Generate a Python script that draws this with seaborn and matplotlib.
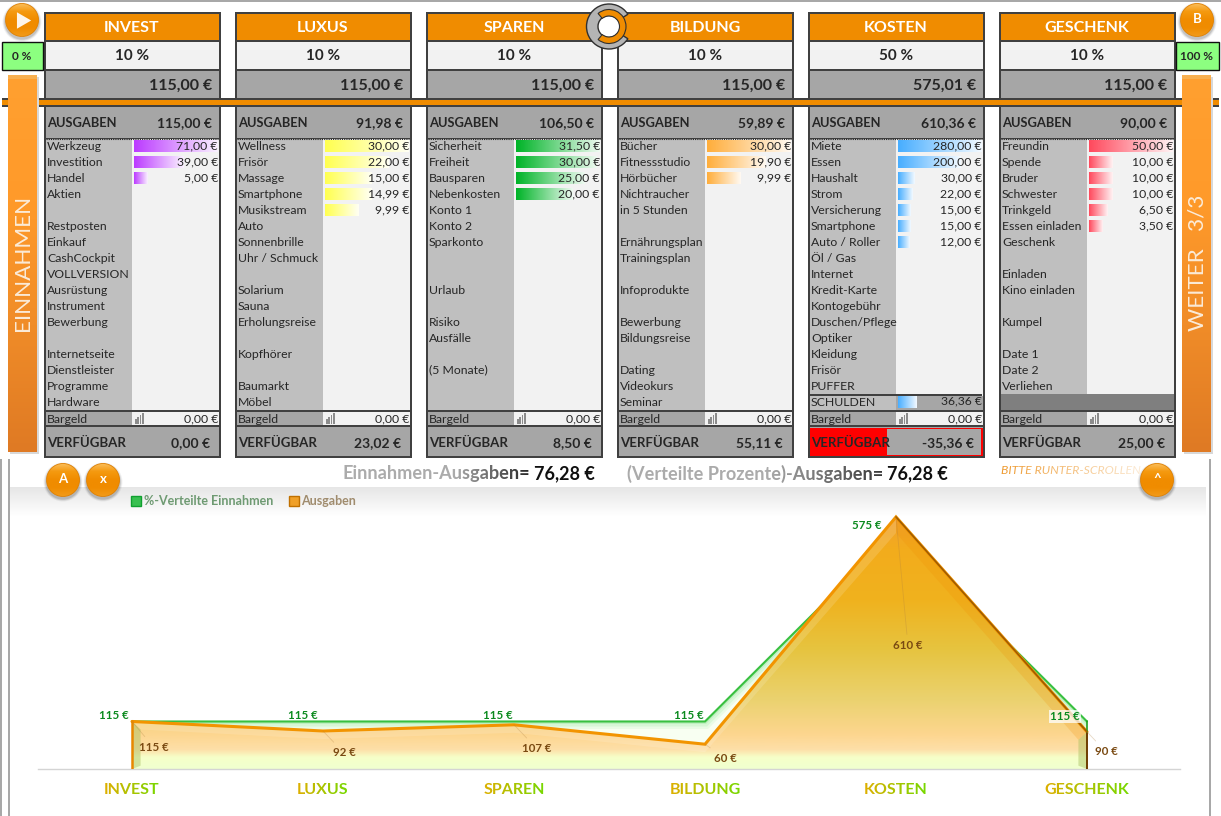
import numpy as np
import pandas as pd
import matplotlib
matplotlib.use("Agg")
import matplotlib.pyplot as plt
import seaborn as sns
from matplotlib.colors import LinearSegmentedColormap as LSC, to_rgb
from matplotlib.patches import Rectangle, Circle, Wedge, Polygon, Patch, RegularPolygon

W, H = 1221, 816

# chart data
categories = ["INVEST", "LUXUS", "SPAREN", "BILDUNG", "KOSTEN", "GESCHENK"]
verteilt = [115, 115, 115, 115, 575, 115]
ausgaben = [115, 92, 107, 60, 610, 90]

# panel data
percents = ["10 %", "10 %", "10 %", "10 %", "50 %", "10 %"]
budget_txt = ["115,00 €", "115,00 €", "115,00 €", "115,00 €", "575,01 €", "115,00 €"]
ausgaben_txt = ["115,00 €", "91,98 €", "106,50 €", "59,89 €", "610,36 €", "90,00 €"]
verfuegbar_txt = ["0,00 €", "23,02 €", "8,50 €", "55,11 €", "-35,36 €", "25,00 €"]

invest_items = ["Werkzeug", "Investition", "Handel", "Aktien", "", "Restposten", "Einkauf", "CashCockpit",
                "VOLLVERSION", "Ausrüstung", "Instrument", "Bewerbung", "", "Internetseite", "Dienstleister",
                "Programme", "Hardware"]
luxus_items = ["Wellness", "Frisör", "Massage", "Smartphone", "Musikstream", "Auto", "Sonnenbrille", "Uhr / Schmuck",
               "", "Solarium", "Sauna", "Erholungsreise", "", "Kopfhörer", "", "Baumarkt", "Möbel"]
sparen_items = ["Sicherheit", "Freiheit", "Bausparen", "Nebenkosten", "Konto 1", "Konto 2", "Sparkonto", "", "",
                "Urlaub", "", "Risiko", "Ausfälle", "", "(5 Monate)", "", ""]
bildung_items = ["Bücher", "Fitnessstudio", "Hörbücher", "Nichtraucher", "in 5 Stunden", "", "Ernährungsplan",
                 "Trainingsplan", "", "Infoprodukte", "", "Bewerbung", "Bildungsreise", "", "Dating", "Videokurs",
                 "Seminar"]
kosten_items = ["Miete", "Essen", "Haushalt", "Strom", "Versicherung", "Smartphone", "Auto / Roller", "Öl / Gas",
                "Internet", "Kredit-Karte", "Kontogebühr", "Duschen/Pflege", "Optiker", "Kleidung", "Frisör", "PUFFER",
                "SCHULDEN"]
geschenk_items = ["Freundin", "Spende", "Bruder", "Schwester", "Trinkgeld", "Essen einladen", "Geschenk", "",
                  "Einladen", "Kino einladen", "", "Kumpel", "", "Date 1", "Date 2", "Verliehen", ""]

invest_vals = [71.00, 39.00, 5.00]
luxus_vals = [30.00, 22.00, 15.00, 14.99, 9.99]
sparen_vals = [31.50, 30.00, 25.00, 20.00]
bildung_vals = [30.00, 19.90, 9.99]
kosten_vals = [280.00, 200.00, 30.00, 22.00, 15.00, 15.00, 12.00]
schulden_val = 36.36
geschenk_vals = [50.00, 10.00, 10.00, 10.00, 6.50, 3.50]

items = [invest_items, luxus_items, sparen_items, bildung_items, kosten_items, geschenk_items]
values = [invest_vals, luxus_vals, sparen_vals, bildung_vals, kosten_vals, geschenk_vals]
bar_colors = ["#BC3CFF", "#FFFF50", "#00B428", "#FFAE3C", "#48AEFF", "#FF4A5E"]
panel_x = [44, 235, 426, 617, 808, 999]

ORANGE = "#F08C00"
DARK = "#404040"
GREY = "#A6A6A6"
LGREY = "#BFBFBF"
PALE = "#F2F2F2"
TXT = "#262626"
LIST_FS = 8.8

sns.set_theme(style="white")
plt.rcParams["font.family"] = ["Lato", "DejaVu Sans"]


def money(v):
    return f"{v:.2f}".replace(".", ",") + " €"


def bar_len(v, vmax):
    # excel style data bar, never shorter than 10 %
    return 0.1 + 0.9 * v / vmax


def grad_text(c0, c1, start=0.0):
    # recolours a text from left to right when it is drawn
    c0, c1 = np.array(to_rgb(c0)), np.array(to_rgb(c1))

    def flt(img, dpi):
        t = np.linspace(0, 1, img.shape[1])
        t = np.clip((t - start) / (1 - start), 0, 1)[None, :, None]
        img = img.copy()
        img[..., :3] = c0 * (1 - t) + c1 * t
        return img, 0, 0
    return flt


def fade_text(color):
    rgb = np.array(to_rgb(color))

    def flt(img, dpi):
        t = np.linspace(1, 0.2, img.shape[1])[None, :]
        img = img.copy()
        img[..., :3] = rgb
        img[..., 3] = img[..., 3] * t
        return img, 0, 0
    return flt


fig = plt.figure(figsize=(W / 100, H / 100), dpi=100)
fig.patch.set_facecolor("white")


def full_axes(z):
    a = fig.add_axes([0, 0, 1, 1], zorder=z)
    a.set_xlim(0, W)
    a.set_ylim(H, 0)
    a.axis("off")
    a.patch.set_alpha(0)
    return a


bg = full_axes(0)
fg = full_axes(5)


def box(a, x0, y0, x1, y1, color, z=1, **kw):
    a.add_patch(Rectangle((x0, y0), x1 - x0, y1 - y0, facecolor=color, edgecolor="none", zorder=z, **kw))


def vgrad(a, x0, y0, x1, y1, colors, z=1, clip=None):
    cm = LSC.from_list("g", colors)
    im = a.imshow(np.linspace(0, 1, 128)[:, None], cmap=cm, extent=[x0, x1, y1, y0], aspect="auto", zorder=z,
                  origin="upper")
    if clip is not None:
        a.add_patch(clip)
        clip.set_visible(False)
        im.set_clip_path(clip)
    return im


# page frame
box(bg, 0, 0, W, 1.5, "#A8A8A8")
box(bg, 0, 459, 1.5, H, "#A8A8A8")
box(bg, 7.5, 459, 9.5, H, "#A8A8A8")
box(bg, 1208.5, 459, 1210.5, H, "#A8A8A8")
vgrad(bg, 10, 487, 1206, 516, ["#E6E6E6", "#FFFFFF"], z=1)

# panels
for i, x in enumerate(panel_x):
    box(bg, x - 0.5, 11.5, x + 176.5, 458, DARK)
    box(bg, x + 1.5, 13.5, x + 174.5, 40, ORANGE, z=2)
    box(bg, x + 1.5, 42, x + 174.5, 69, PALE, z=2)
    box(bg, x + 1.5, 71, x + 174.5, 98, GREY, z=2)
    box(bg, x + 1.5, 107, x + 174.5, 138, GREY, z=2)
    box(bg, x + 1.5, 139, x + 88, 410, LGREY, z=2)
    box(bg, x + 88, 139, x + 174.5, 410, PALE, z=2)
    box(bg, x + 1.5, 411.5, x + 88, 425, GREY, z=2)
    box(bg, x + 88, 411.5, x + 174.5, 425, PALE, z=2)
    box(bg, x + 1.5, 427, x + 174.5, 456, GREY, z=2)
    bg.plot([x + 2, x + 174], [138.5, 138.5], color="#202020", lw=0.8, ls=(0, (1, 1)), zorder=3)

    fg.text(x + 88, 27.5, categories[i], color="white", fontsize=11.5, fontweight="bold", ha="center", va="center")
    fg.text(x + 88, 56.5, percents[i], color=TXT, fontsize=11, fontweight="bold", ha="center", va="center")
    fg.text(x + 168, 85.5, budget_txt[i], color=TXT, fontsize=11.5, fontweight="bold", ha="right", va="center")
    fg.text(x + 3, 123, "AUSGABEN", color=TXT, fontsize=9.3, fontweight="bold", ha="left", va="center")
    fg.text(x + 168, 123, ausgaben_txt[i], color=TXT, fontsize=10, fontweight="bold", ha="right", va="center")
    fg.text(x + 3, 443, "VERFÜGBAR", color=TXT, fontsize=9.5, fontweight="bold", ha="left", va="center")
    fg.text(x + 166, 443, verfuegbar_txt[i], color=TXT, fontsize=10, fontweight="bold", ha="right", va="center")
    fg.text(x + 3, 419.5, "Bargeld", color=TXT, fontsize=LIST_FS, ha="left", va="center")
    fg.text(x + 174, 419, "0,00 €", color=TXT, fontsize=LIST_FS, ha="right", va="center")
    for k, hgt in enumerate([5, 7, 9, 11]):
        box(bg, x + 91 + k * 2.3, 424 - hgt, x + 92.8 + k * 2.3, 424, "#8C8C8C", z=3)

    for r, name in enumerate(items[i]):
        if name:
            yy = 403 if name == "SCHULDEN" else 146 + 16 * r
            fg.text(x + 3, yy, name, color=TXT, fontsize=LIST_FS, ha="left", va="center")
    for r, v in enumerate(values[i]):
        fg.text(x + 174, 146 + 16 * r, money(v), color=TXT, fontsize=LIST_FS, ha="right", va="center")

# special rows
kx = panel_x[4]
box(bg, kx + 2, 394, kx + 174, 410, DARK, z=3)
box(bg, kx + 1.5, 395.5, kx + 88, 410, LGREY, z=3)
box(bg, kx + 88, 395.5, kx + 174.5, 410, GREY, z=3)
fg.text(kx + 174, 401, money(schulden_val), color=TXT, fontsize=LIST_FS, ha="right", va="center")
box(bg, kx + 1.5, 427.5, kx + 174.5, 456, "#FF0000", z=3)
box(bg, kx + 3, 429, kx + 173, 454.5, GREY, z=3)
box(bg, kx + 3, 429, kx + 79, 454.5, "#FF0000", z=3)
gx = panel_x[5]
box(bg, gx + 1.5, 394, gx + 174.5, 410, "#7F7F7F", z=3)

# data bars
for i, x in enumerate(panel_x):
    vals = list(values[i])
    rows = list(range(len(vals)))
    if i == 4:
        vals.append(schulden_val)
        rows.append(16)
    vmax = max(vals)
    df_bar = pd.DataFrame({"row": rows, "length": [bar_len(v, vmax) for v in vals]})
    ax = fig.add_axes([(x + 90) / W, 1 - 410 / H, 84 / W, 272 / H], zorder=2)
    sns.barplot(data=df_bar, x="length", y="row", orient="h", native_scale=True, width=0.75, errorbar=None,
                color=bar_colors[i], ax=ax)
    cm = LSC.from_list("b", [bar_colors[i], "#FFFFFF"])
    for p in list(ax.patches):
        px, py, pw, ph = p.get_x(), p.get_y(), p.get_width(), p.get_height()
        ax.imshow(np.linspace(0, 0.93, 64)[None, :], cmap=cm, vmin=0, vmax=1, aspect="auto",
                  extent=[px, px + pw, py + ph, py], zorder=2)
        p.set_visible(False)
    ax.set_xlim(0, 1)
    ax.set_ylim(16.5, -0.5)
    ax.axis("off")
    ax.patch.set_alpha(0)

# horizontal band
box(fg, 2, 98, 1219, 107, DARK, z=1)
box(fg, 2, 100, 1219, 105, ORANGE, z=1)

# side bars
for x0, label in [(8, "EINNAHMEN"), (1182, "WEITER   3/3")]:
    box(fg, x0 + 2, 77, x0 + 31, 454, "#D8D8D8", z=1)
    vgrad(fg, x0, 75, x0 + 29, 452, ["#FFA030", "#FF9A2A", "#F08C28", "#DF7A24"], z=2)
    box(fg, x0, 75, x0 + 29, 79, "#F8B050", z=2)
    fg.text(x0 + 15.5, 263, label, color="#FBEBD8", fontsize=16.2, rotation=90, ha="center", va="center", zorder=3)

# percent boxes
for x0, x1, t in [(1, 43, "0 %"), (1175, 1219, "100 %")]:
    fg.add_patch(Rectangle((x0 + 0.5, 41.5), x1 - x0 - 1, 28.5, facecolor="#8CFF80", edgecolor="#101010", lw=1.0,
                           zorder=2))
    fg.text((x0 + x1) / 2, 57, t, color=TXT, fontsize=8.5, fontweight="bold", ha="center", va="center", zorder=3)


def button(cx, cy, label=None, r=16.5):
    for k, al in zip([5, 3.5, 2], [0.05, 0.08, 0.12]):
        fg.add_patch(Circle((cx, cy + 2), r + k * 0.6, facecolor="black", alpha=al, edgecolor="none", zorder=6))
    clip = Circle((cx, cy), r, transform=fg.transData)
    vgrad(fg, cx - r, cy - r, cx + r, cy + r, ["#FBC060", "#F59A10", "#F08C00", "#F08C00", "#F29A18"], z=7, clip=clip)
    fg.add_patch(Circle((cx, cy), r, facecolor="none", edgecolor="#E08000", lw=0.6, zorder=7))
    if label:
        fg.text(cx, cy - 1, label, color="white", fontsize=9.5, fontweight="bold", ha="center", va="center", zorder=8)


button(22, 20)
fg.add_patch(RegularPolygon((21.7, 20.5), 3, radius=9.5, orientation=-np.pi / 2, facecolor="#FDF5EA",
                            edgecolor="none", zorder=8))
button(1197, 20, "B")
button(63, 480, "A")
button(103, 480, "x")
button(1157, 480, "^")

# logo
lx, ly = 609, 26.5
fg.add_patch(Circle((lx, ly), 11, facecolor="white", edgecolor="none", zorder=7))
fg.add_patch(Wedge((lx, ly), 22.5, 33, 327, width=11.5, facecolor="#B4B4B4", edgecolor="#303030", lw=1, zorder=8))
fg.add_patch(Wedge((lx, ly), 17, -130, 130, width=6.5, facecolor=ORANGE, edgecolor="#303030", lw=0.8, zorder=9))

# summary line
s1 = fg.text(343, 474, "Einnahmen-Ausgaben=", fontsize=13.1, fontweight="bold", color="#A0A0A0", ha="left", va="center")
s1.set_agg_filter(grad_text("#ABABAB", "#282828", start=0.6))
fg.text(595, 474, "76,28 €", fontsize=13, fontweight="bold", color="#101010", ha="right", va="center")
s2 = fg.text(627, 474, "(Verteilte Prozente)-Ausgaben=", fontsize=13.1, fontweight="bold", color="#A0A0A0", ha="left",
             va="center")
s2.set_agg_filter(grad_text("#ABABAB", "#383838", start=0.55))
fg.text(948, 474, "76,28 €", fontsize=13, fontweight="bold", color="#101010", ha="right", va="center")
s3 = fg.text(1001, 471, "BITTE RUNTER-SCROLLEN", fontsize=8.85, fontstyle="italic", color="#F0A040", ha="left",
             va="center")
s3.set_agg_filter(fade_text("#EE9A30"))

bg.set_xlim(0, W)
bg.set_ylim(H, 0)
fg.set_xlim(0, W)
fg.set_ylim(H, 0)

# area chart, 0..5 on the categories
chart = fig.add_axes([38 / W, 1 - 769 / H, 1142 / W, 269 / H], zorder=3)
chart.patch.set_alpha(0)
long = pd.DataFrame({
    "cat": categories * 2,
    "value": verteilt + ausgaben,
    "series": ["%-Verteilte Einnahmen"] * 6 + ["Ausgaben"] * 6,
})
sns.lineplot(data=long, x="cat", y="value", hue="series", sort=False, legend=False, ax=chart, errorbar=None,
             palette={"%-Verteilte Einnahmen": "#30C030", "Ausgaben": "#F29400"})
ymax = 651
x_idx = np.arange(len(categories))
left, right = -94 / 191, 5 + 93 / 191
chart.set_xlim(left, right)
chart.set_ylim(0, ymax)

line_g, line_o = chart.get_lines()[:2]
line_g.set_linewidth(1.5)
line_g.set_color("#38C040")
line_o.set_linewidth(2.2)
line_g.set_solid_joinstyle("miter")
line_o.set_solid_joinstyle("miter")
line_g.set_zorder(1.6)
line_o.set_zorder(4)


def area(vals, stops, z):
    pts = np.vstack([[x_idx[0], 0], np.c_[x_idx, vals], [x_idx[-1], 0]])
    poly = Polygon(pts, closed=True, transform=chart.transData)
    cm = LSC.from_list("a", stops)
    chart.add_patch(poly)
    poly.set_visible(False)
    im = chart.imshow(np.linspace(0, 1, 256)[::-1, None], cmap=cm, extent=[left, right, 0, 610], aspect="auto",
                      zorder=z)
    im.set_clip_path(poly)
    return poly


green_poly = area(verteilt, ["#F8FFF2", "#FCFFF8"], 1)
# soft edge along the green line, fades away from it
for lw_px, al in [(15, 0.08), (10, 0.12), (5, 0.18)]:
    soft, = chart.plot(x_idx, verteilt, color="#50D860", lw=lw_px * 0.72, alpha=al, zorder=1.2,
                       solid_joinstyle="miter")
    soft.set_clip_path(green_poly)

area(ausgaben, [(0, "#F0FFD0"), (0.045, "#F6FFC8"), (0.075, "#FDDFA8"), (0.135, "#FDD68F"), (0.27, "#EBD270"),
                (0.47, "#E6C440"), (0.67, "#F0B21E"), (0.87, "#F3AC1C"), (1, "#F0A030")], 2)

# bevel inside the orange area
ins = 16 / 0.413 * 0.5
top = np.c_[x_idx, ausgaben].astype(float)
inner = top.copy()
inner[:, 1] -= ins
inner[0, 0] += 0.045
inner[-1, 0] -= 0.045
inner[0, 1] = top[0, 1] - ins
inner[4, 1] = top[4, 1] - ins * 2
chart.add_patch(Polygon(np.vstack([top[:5], inner[:5][::-1]]), facecolor="white", alpha=0.14, edgecolor="none",
                        zorder=3))
chart.add_patch(Polygon(np.vstack([top[4:], inner[4:][::-1]]), facecolor="#F08C00", alpha=0.2, edgecolor="none",
                        zorder=3))
chart.add_patch(Polygon([[0, 0], top[0], inner[0], [0.045, 8]], facecolor="#A8C060", alpha=0.45, edgecolor="none",
                        zorder=3))
chart.add_patch(Polygon([[5, 0], top[-1], inner[-1], [5 - 0.045, 8]], facecolor="#A8C060", alpha=0.45,
                        edgecolor="none", zorder=3))

# edges of the shapes
chart.plot([0, 0], [0, ausgaben[0]], color="#E88800", lw=1.8, zorder=5)
chart.plot([5, 5], [0, ausgaben[5]], color="#6E3C00", lw=1.4, zorder=5)
chart.plot([5, 5], [ausgaben[5], verteilt[5]], color="#20A020", lw=1.2, zorder=5)
chart.plot([4, 5], [ausgaben[4], ausgaben[5]], color="#A05C00", lw=1.2, zorder=5)

# value labels
green_off = [(-18, 6), (-20, 6), (-16, 6), (-16, 6), (-29, 6), (-22, 5)]
orange_off = [(22, -26), (21, -22), (23, -24), (20, -14), (12, -129), (19, -20)]
for i in x_idx:
    bb = dict(facecolor="white", alpha=0.75, edgecolor="none", pad=1) if i == 5 else None
    chart.annotate(f"{verteilt[i]} €", (i, verteilt[i]), xytext=green_off[i], textcoords="offset pixels", ha="center",
                   va="center", fontsize=8.3, fontweight="bold", color="#0B8A1E", zorder=6, bbox=bb)
    chart.annotate(f"{ausgaben[i]} €", (i, ausgaben[i]), xytext=orange_off[i], textcoords="offset pixels", ha="center",
                   va="center", fontsize=8.3, fontweight="bold", color="#7A4A12", zorder=6,
                   arrowprops=dict(arrowstyle="-", color="#B08040", alpha=0.3, lw=0.6, shrinkA=2, shrinkB=0))

chart.set_xticks(x_idx)
chart.set_xticklabels(categories)
chart.set_yticks([])
chart.set_xlabel("")
chart.set_ylabel("")
chart.tick_params(axis="x", length=0, pad=10)
for t in chart.get_xticklabels():
    t.set_fontsize(11.5)
    t.set_fontweight("bold")
    t.set_agg_filter(grad_text("#DDB000", "#78D800"))
for side in ("top", "left", "right"):
    chart.spines[side].set_visible(False)
chart.spines["bottom"].set_color("#D4D4D4")
chart.spines["bottom"].set_linewidth(1)

leg = chart.legend(handles=[Patch(facecolor="#38C050", edgecolor="#10A030", label="%-Verteilte Einnahmen"),
                            Patch(facecolor="#F0A028", edgecolor="#C07000", label="Ausgaben")],
                   loc="upper left", bbox_to_anchor=(131 / W, 1 - 495.5 / H), bbox_transform=fig.transFigure, ncols=2,
                   frameon=False, borderpad=0, borderaxespad=0, handlelength=0.8, handleheight=0.8,
                   handletextpad=0.2, columnspacing=1.28, fontsize=9)
for t, c in zip(leg.get_texts(), ["#6E9A72", "#A08C6E"]):
    t.set_color(c)
    t.set_fontweight("bold")

fig.savefig("out.png", dpi=100)
